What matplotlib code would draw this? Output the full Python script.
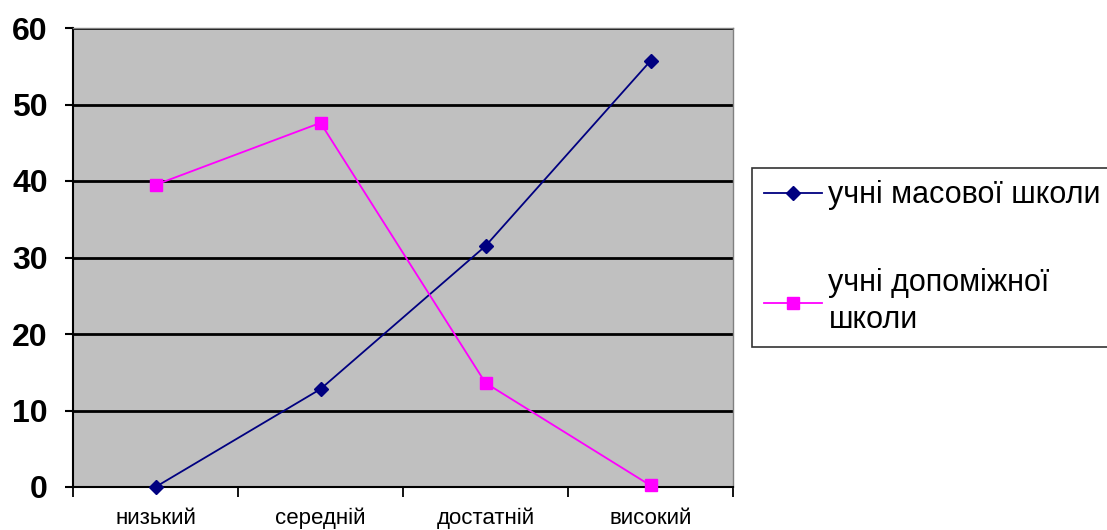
import matplotlib.pyplot as plt
import numpy as np

categories = ['низький', 'середній', 'достатній', 'високий']
mass_school = [0, 12.8, 31.5, 55.7]
aux_school = [39.5, 47.6, 13.6, 0.2]
labels = ['учні масової школи', 'учні допоміжної\nшколи']

plt.rcParams['font.family'] = ['Liberation Sans', 'DejaVu Sans']

fig = plt.figure(figsize=(11.07, 5.30), dpi=100)
ax = fig.add_axes([73 / 1107, 1 - 487 / 530, 660 / 1107, 459 / 530])
ax.set_facecolor('#C0C0C0')

x = np.arange(len(categories))
l1, = ax.plot(x, mass_school, color='#000080', lw=1.3, marker='D', ms=7,
              clip_on=False, zorder=5)
l2, = ax.plot(x, aux_school, color='#FF00FF', lw=1.3, marker='s', ms=8,
              clip_on=False, zorder=5)

ax.set_xlim(-0.5, len(categories) - 0.5)
ax.set_ylim(0, 60)
ax.set_yticks(range(0, 61, 10))
ax.yaxis.grid(True, color='black', lw=2)
ax.set_axisbelow(True)

ax.set_xticks(x)
ax.set_xticklabels(categories, fontsize=16)
ax.set_xticks(np.arange(-0.5, len(categories), 1), minor=True)
ax.tick_params(axis='x', which='major', length=0, pad=15)
ax.tick_params(axis='x', which='minor', length=7, width=1.3, direction='out')
ax.tick_params(axis='y', length=6, width=1.5, direction='out', pad=12)
for t in ax.get_yticklabels():
    t.set_fontsize(23)
    t.set_fontweight('bold')

for s in ['top', 'right']:
    ax.spines[s].set_color('#808080')
    ax.spines[s].set_linewidth(1)
ax.spines['left'].set_linewidth(1.5)
ax.spines['bottom'].set_linewidth(1.5)

leg = fig.legend([l1, l2], labels, loc='upper left',
                 bbox_to_anchor=(752 / 1107, 1 - 168 / 530), fontsize=22,
                 frameon=True, fancybox=False, edgecolor='black',
                 handlelength=1.9, handletextpad=0.2, labelspacing=1.9,
                 borderpad=0.4, borderaxespad=0)
leg.get_frame().set_linewidth(1.2)
for t in leg.get_texts():
    t.set_linespacing(1.3)

fig.savefig('out.png', dpi=100)
